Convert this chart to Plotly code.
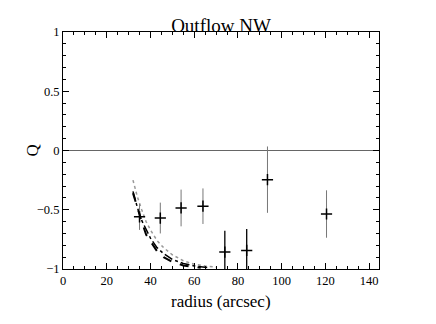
import plotly.graph_objects as go

# measured polarisation points
radius = [35, 44.5, 54, 64, 74, 84, 93.5, 120.5]
q_val = [-0.56, -0.57, -0.485, -0.47, -0.857, -0.843, -0.246, -0.536]
q_err = [0.11, 0.13, 0.155, 0.15, 0.18, 0.18, 0.28, 0.2]
dark_bar = [False, False, False, False, True, True, False, False]

# model curves
dot_x = [32, 34, 36, 38, 40, 43, 46, 50, 55, 60, 65, 70]
dot_y = [-0.25, -0.39, -0.50, -0.60, -0.67, -0.76, -0.82, -0.88, -0.93, -0.96, -0.975, -0.985]
dashdot_x = [32, 34, 36, 38, 40, 43, 46, 50, 55, 60, 66]
dashdot_y = [-0.345, -0.48, -0.59, -0.67, -0.74, -0.82, -0.87, -0.92, -0.953, -0.974, -0.987]
dash_x = [32, 34, 36, 38, 40, 43, 46, 50, 55, 60, 63]
dash_y = [-0.36, -0.49, -0.60, -0.71, -0.77, -0.85, -0.90, -0.94, -0.97, -0.983, -0.99]

FONT = "Liberation Serif, Times New Roman, serif"

# the page body adds an 8px margin, so the figure is drawn 8px smaller
W, H = 428, 316
L, R, T, B = 55, 57, 24, 55
PW, PH = W - L - R, H - T - B

fig = go.Figure()

# zero line
fig.add_trace(go.Scatter(x=[0, 145], y=[0, 0], mode="lines",
                         line=dict(color="#666666", width=1), showlegend=False))

fig.add_trace(go.Scatter(x=dot_x, y=dot_y, mode="lines",
                         line=dict(color="#999999", width=1.5, dash="dot"), showlegend=False))
fig.add_trace(go.Scatter(x=dashdot_x, y=dashdot_y, mode="lines",
                         line=dict(color="black", width=1.5, dash="dashdot"), showlegend=False))
fig.add_trace(go.Scatter(x=dash_x, y=dash_y, mode="lines",
                         line=dict(color="black", width=2, dash="dash"), showlegend=False))

for dark in (False, True):
    idx = [i for i, d in enumerate(dark_bar) if d == dark]
    fig.add_trace(go.Scatter(
        x=[radius[i] for i in idx], y=[q_val[i] for i in idx], mode="markers",
        marker=dict(symbol="cross-thin", size=8, line=dict(color="black", width=1.5)),
        error_y=dict(type="data", array=[q_err[i] for i in idx], width=0,
                     thickness=1.3 if dark else 1, color="black" if dark else "#777777"),
        showlegend=False))

axis_common = dict(showgrid=False, zeroline=False, showline=True, linecolor="black", linewidth=1,
                   mirror="allticks", ticks="inside", ticklen=6, tickcolor="black",
                   tickfont=dict(family=FONT, size=12.5, color="black"))

fig.update_layout(
    width=W, height=H, autosize=False,
    margin=dict(l=L, r=R, t=T, b=B),
    plot_bgcolor="white", paper_bgcolor="white",
    font=dict(family=FONT, color="black"),
    title=dict(text="Outflow NW", x=0.5, xref="paper", xanchor="center",
               y=1 - 17 / H, yref="container", yanchor="middle",
               font=dict(family=FONT, size=19, color="black")),
    xaxis=dict(range=[0, 144.5], tickvals=[0, 20, 40, 60, 80, 100, 120, 140],
               minor=dict(dtick=5, ticks="inside", ticklen=3, tickcolor="black"), **axis_common),
    yaxis=dict(range=[-1, 1], tickvals=[-1, -0.5, 0, 0.5, 1],
               ticktext=["\u22121", "\u22120.5", "0", "0.5", "1"],
               minor=dict(dtick=0.1, ticks="inside", ticklen=3, tickcolor="black"), **axis_common),
    annotations=[
        dict(text="radius (arcsec)", x=0.5, xref="paper", y=-32.5 / PH, yref="paper",
             showarrow=False, yanchor="middle", font=dict(family=FONT, size=17, color="black")),
        dict(text="Q", x=-31 / PW, xref="paper", y=0.5, yref="paper", textangle=-90,
             showarrow=False, xanchor="center", font=dict(family=FONT, size=17, color="black")),
    ],
)

fig.write_html("out.html")
